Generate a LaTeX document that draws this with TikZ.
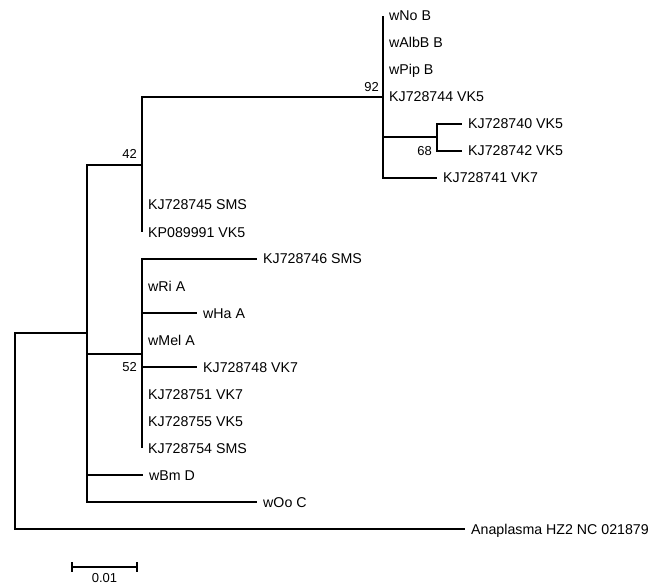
\documentclass[tikz,border=0pt]{standalone}
\usepackage{fontspec}
\setmainfont{Liberation Sans}
\begin{document}
\begin{tikzpicture}[x=1pt,y=-1pt,
  branch/.style={line width=1.7pt, line join=miter},
  leaf/.style={anchor=base west, inner sep=0pt, xshift=6pt, yshift=-5pt, font=\fontsize{14.2}{16}\selectfont},
  boot/.style={inner sep=0pt, font=\fontsize{13}{15}\selectfont}]
\useasboundingbox (0,0) rectangle (650,585);
% internal nodes
\coordinate (root) at (15,431);
\coordinate (n1) at (87,333);
\coordinate (n42) at (142,165);
\coordinate (n92) at (383,97);
\coordinate (n68) at (437,137);
\coordinate (n52) at (142,354);
% tips
\coordinate (tNo) at (383,16);
\coordinate (tAlb) at (383,43);
\coordinate (tPip) at (383,70);
\coordinate (t744) at (383,97);
\coordinate (t740) at (462,124);
\coordinate (t742) at (462,151);
\coordinate (t741) at (437,178);
\coordinate (t745) at (142,205);
\coordinate (t991) at (142,232);
\coordinate (t746) at (257,259);
\coordinate (tRi) at (142,286);
\coordinate (tHa) at (197,313);
\coordinate (tMel) at (142,340);
\coordinate (t748) at (197,367);
\coordinate (t751) at (142,394);
\coordinate (t755) at (142,421);
\coordinate (t754) at (142,448);
\coordinate (tBm) at (143,475);
\coordinate (tOo) at (257,502);
\coordinate (tAna) at (465,529);
% labels
\node[leaf] (lNo) at (tNo) {wNo B};
\node[leaf] (lAlb) at (tAlb) {wAlbB B};
\node[leaf] (lPip) at (tPip) {wPip B};
\node[leaf] (l744) at (t744) {KJ728744 VK5};
\node[leaf] (l740) at (t740) {KJ728740 VK5};
\node[leaf] (l742) at (t742) {KJ728742 VK5};
\node[leaf] (l741) at (t741) {KJ728741 VK7};
\node[leaf] (l745) at (t745) {KJ728745 SMS};
\node[leaf] (l991) at (t991) {KP089991 VK5};
\node[leaf] (l746) at (t746) {KJ728746 SMS};
\node[leaf] (lRi) at (tRi) {wRi A};
\node[leaf] (lHa) at (tHa) {wHa A};
\node[leaf] (lMel) at (tMel) {wMel A};
\node[leaf] (l748) at (t748) {KJ728748 VK7};
\node[leaf] (l751) at (t751) {KJ728751 VK7};
\node[leaf] (l755) at (t755) {KJ728755 VK5};
\node[leaf] (l754) at (t754) {KJ728754 SMS};
\node[leaf] (lBm) at (tBm) {wBm D};
\node[leaf] (lOo) at (tOo) {wOo C};
\node[leaf] (lAna) at (tAna) {Anaplasma HZ2 NC 021879};
% branches
\draw[branch] (root) |- (n1);
\draw[branch] (root) |- (tAna);
\draw[branch] (n1) |- (n42);
\draw[branch] (n1) |- (n52);
\draw[branch] (n1) |- (tBm);
\draw[branch] (n1) |- (tOo);
\draw[branch] (n42) |- (n92);
\draw[branch] (n42) |- (t745);
\draw[branch] (n42) |- (t991);
\draw[branch] (n92) |- (tNo);
\draw[branch] (n92) |- (tAlb);
\draw[branch] (n92) |- (tPip);
\draw[branch] (n92) |- (t744);
\draw[branch] (n92) |- (n68);
\draw[branch] (n92) |- (t741);
\draw[branch] (n68) |- (t740);
\draw[branch] (n68) |- (t742);
\draw[branch] (n52) |- (t746);
\draw[branch] (n52) |- (tRi);
\draw[branch] (n52) |- (tHa);
\draw[branch] (n52) |- (tMel);
\draw[branch] (n52) |- (t748);
\draw[branch] (n52) |- (t751);
\draw[branch] (n52) |- (t755);
\draw[branch] (n52) |- (t754);
% bootstrap values
\node[boot, anchor=base east] (b92) at ([xshift=-4pt,yshift=5pt]n92) {92};
\node[boot, anchor=base east] (b42) at ([xshift=-5pt,yshift=6pt]n42) {42};
\node[boot, anchor=east] (b68) at ([xshift=-5pt]n68 |- t742) {68};
\node[boot, anchor=east] (b52) at ([xshift=-5pt]n52 |- t748) {52};
% scale bar
\coordinate (s1) at (72,567);
\coordinate (s2) at (137,567);
\draw[branch] (s1) -- (s2);
\draw[branch] ([yshift=5pt]s1) -- ([yshift=-5pt]s1);
\draw[branch] ([yshift=5pt]s2) -- ([yshift=-5pt]s2);
\node[boot, anchor=center] (sl) at (104.5,578.5) {0.01};
\end{tikzpicture}
\end{document}
